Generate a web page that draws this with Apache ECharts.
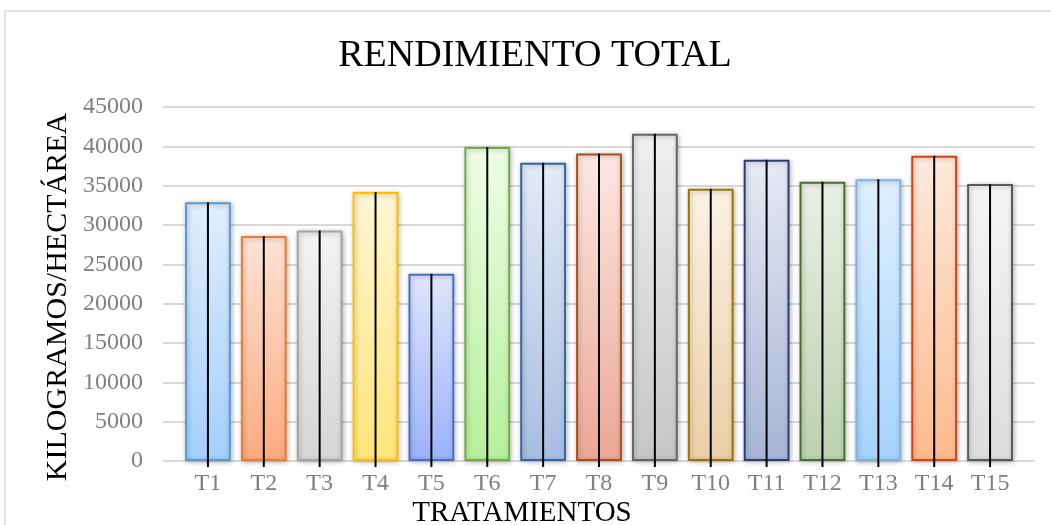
<!DOCTYPE html>
<html>
<head>
<meta charset="utf-8">
<title>Rendimiento total</title>
<script src="https://cdn.jsdelivr.net/npm/echarts@6/dist/echarts.min.js"></script>
<style>
  html, body { margin: 0; padding: 0; background: #ffffff; }
  #chart { width: 1051px; height: 525px; }
</style>
</head>
<body>
<div id="chart"></div>
<script>
// Treatments and total yield (kg/ha)
const categories = ['T1', 'T2', 'T3', 'T4', 'T5', 'T6', 'T7', 'T8', 'T9', 'T10', 'T11', 'T12', 'T13', 'T14', 'T15'];
const yieldKgHa = [32900, 28600, 29300, 34200, 23800, 39900, 37900, 39100, 41600, 34600, 38300, 35500, 35800, 38800, 35200];
const yTicks = [0, 5000, 10000, 15000, 20000, 25000, 30000, 35000, 40000, 45000];

// Per-bar palette: outline, gradient top, gradient bottom
const barBorder = ['#5b9bd5', '#ed7d31', '#a5a5a5', '#ffc000', '#4472c4', '#70ad47', '#2e6aa8', '#a8501a', '#666666', '#9c7400', '#283f78', '#4a6e30', '#7fb3e3', '#e0400e', '#5a5a5a'];
const barTop    = ['#e1eefc', '#fde3d6', '#f3f3f3', '#fff6d4', '#e0e6fd', '#effde7', '#e4ebf7', '#fce8e3', '#efefef', '#fbf1e3', '#e7eaf4', '#e9f0e4', '#dff0ff', '#feeadc', '#f5f5f5'];
const barBottom = ['#a3cffc', '#fcaa80', '#d6d6d6', '#ffe57a', '#9bb1fb', '#b6f09c', '#a8bde0', '#eba795', '#c6c6c6', '#ebcfa6', '#a8b4d6', '#bcd1ae', '#a4d3ff', '#fdba8c', '#dddddd'];

const serif = '"Liberation Serif", "DejaVu Serif", serif';

const chart = echarts.init(document.getElementById('chart'), null, { renderer: 'canvas' });

const option = {
  backgroundColor: '#ffffff',
  animation: false,
  grid: [
    // grid carrying the value axis labels and the horizontal gridlines
    { left: 163, right: 16, top: 107, bottom: 64 },
    // grid carrying the bars
    { left: 180, right: 33, top: 107, bottom: 64 }
  ],
  xAxis: [
    { gridIndex: 0, type: 'category', data: categories, show: false },
    {
      gridIndex: 1,
      type: 'category',
      data: categories,
      axisLine: { show: false },
      axisTick: { show: false },
      axisLabel: { color: '#7f7f7f', fontFamily: serif, fontSize: 24, margin: 11 }
    }
  ],
  yAxis: [
    {
      gridIndex: 0,
      type: 'value',
      min: 0,
      max: 45000,
      interval: 5000,
      axisLine: { show: false },
      axisTick: { show: false },
      splitLine: { show: true, lineStyle: { color: '#d9d9d9', width: 2 } },
      axisLabel: {
        color: '#7f7f7f', fontFamily: serif, fontSize: 24, margin: 20,
        formatter: v => (yTicks.indexOf(v) >= 0 ? String(v) : '')
      }
    },
    {
      gridIndex: 1,
      type: 'value',
      min: 0,
      max: 45000,
      interval: 5000,
      show: false
    }
  ],
  series: [
    {
      type: 'bar',
      xAxisIndex: 1,
      yAxisIndex: 1,
      barWidth: '82%',
      data: yieldKgHa.map((v, i) => ({
        value: v,
        itemStyle: {
          color: new echarts.graphic.LinearGradient(0, 0, 0, 1, [
            { offset: 0, color: barTop[i] },
            { offset: 1, color: barBottom[i] }
          ]),
          borderColor: barBorder[i],
          borderWidth: 2,
          shadowBlur: 5,
          shadowOffsetX: 1,
          shadowOffsetY: 1,
          shadowColor: 'rgba(0,0,0,0.28)'
        }
      }))
    },
    {
      // vertical black line through each bar, from its value down past the axis
      type: 'custom',
      xAxisIndex: 1,
      yAxisIndex: 1,
      clip: false,
      z: 5,
      data: yieldKgHa.map((v, i) => [i, v]),
      renderItem: function (params, api) {
        const top = api.coord([api.value(0), api.value(1)]);
        const base = api.coord([api.value(0), 0]);
        return {
          type: 'line',
          shape: { x1: top[0], y1: top[1], x2: top[0], y2: base[1] + 6 },
          style: { stroke: '#000000', lineWidth: 2 }
        };
      }
    }
  ],
  graphic: [
    {
      type: 'rect',
      shape: { x: 5, y: 11, width: 1060, height: 530 },
      style: { fill: null, stroke: '#d9d9d9', lineWidth: 1.5 },
      silent: true,
      z: -10
    },
    {
      type: 'text',
      x: 535,
      y: 56,
      style: {
        text: 'RENDIMIENTO TOTAL',
        font: '38px ' + serif,
        fill: '#000000',
        textAlign: 'center',
        textVerticalAlign: 'middle'
      }
    },
    {
      type: 'text',
      x: 522,
      y: 513,
      style: {
        text: 'TRATAMIENTOS',
        font: '29px ' + serif,
        fill: '#000000',
        textAlign: 'center',
        textVerticalAlign: 'middle'
      }
    },
    {
      type: 'text',
      x: 58,
      y: 297,
      rotation: Math.PI / 2,
      style: {
        text: 'KILOGRAMOS/HECTÁREA',
        font: '30px ' + serif,
        fill: '#000000',
        textAlign: 'center',
        textVerticalAlign: 'middle'
      }
    }
  ]
};

chart.setOption(option);
</script>
</body>
</html>
